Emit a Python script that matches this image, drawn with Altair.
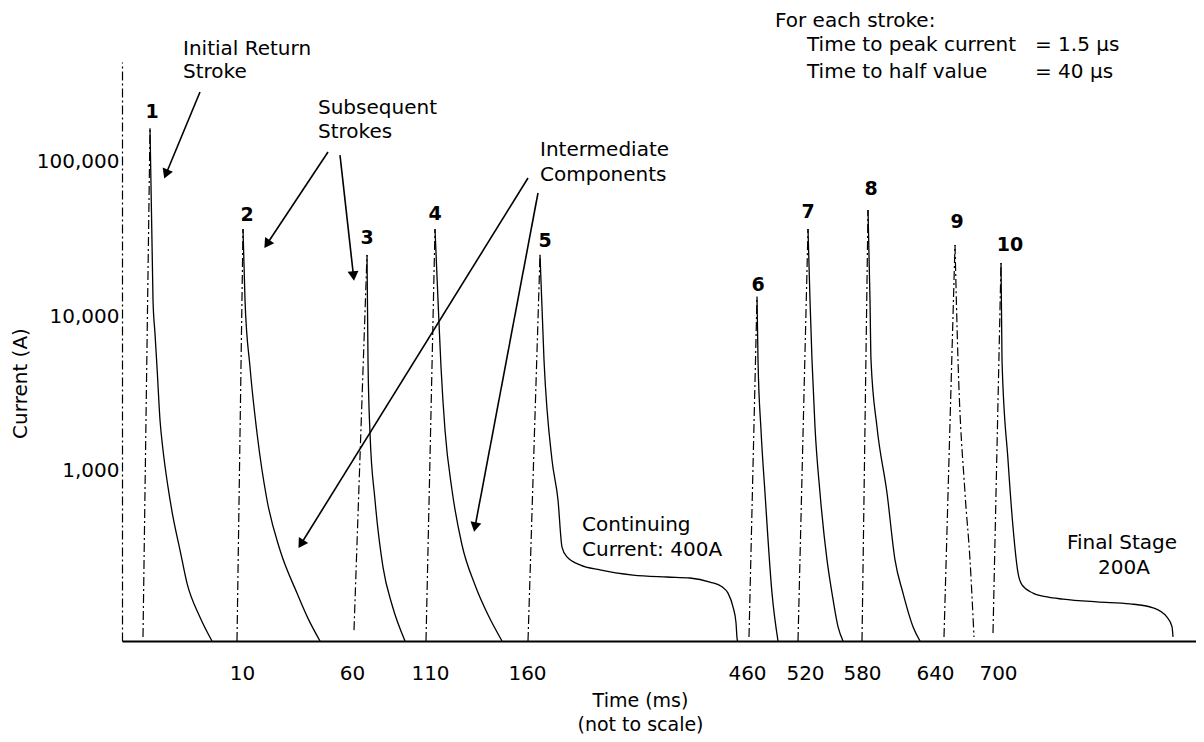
import altair as alt
import pandas as pd

FONT = "DejaVu Sans"

# x positions are drawing units along the (not to scale) time axis
TICK_POS = [120, 230, 308, 405, 625, 683, 740, 813, 876]
TICK_LABELS = ["10", "60", "110", "160", "460", "520", "580", "640", "700"]
Y_TICKS = [1000, 10000, 100000]
X_DOMAIN = [0, 1074]
Y_DOMAIN = [80, 435500]

# rise (front) of each stroke: start at the base, end at the peak
STROKE_ID = ["1", "2", "3", "4", "5", "6", "7", "8", "9", "10"]
RISE_T0 = [21, 115, 232, 304, 406, 627, 676, 740, 822, 871]
RISE_I0 = [85, 80, 94, 80, 80, 85, 80, 80, 85, 90]
PEAK_T = [28, 121, 245, 313, 418, 635, 686, 746, 833, 879]
PEAK_I = [163000, 36400, 24800, 36400, 24800, 13300, 36400, 48300, 28700, 22000]

# decay (tail) of each stroke, after the peak
S1_T = [31, 33, 35, 38, 41, 46, 51, 58, 65, 78, 90]
S1_I = [12700, 7700, 4690, 2134, 1366, 789, 505, 309, 189, 114, 80]
S2_T = [123, 128, 135, 145, 158, 175, 186, 198]
S2_I = [12700, 4690, 1759, 650, 309, 163, 112, 80]
S3_T = [246, 248, 253, 261, 270, 283]
S3_I = [5200, 1759, 650, 240, 137, 80]
S4_T = [316, 319, 323, 330, 340, 353, 366, 380]
S4_I = [12700, 4690, 1840, 754, 333, 184, 118, 80]
S5_T = [422, 430, 436, 440, 445, 458, 478, 511, 545, 568, 588, 600, 606, 611, 614, 615, 615.5]
S5_I = [5200, 1178, 650, 323, 279, 248, 230, 213, 207, 204, 192, 179, 163, 133, 105, 84, 80]
S6_T = [636, 639, 643, 650, 656]
S6_I = [5200, 1840, 721, 163, 80]
S7_T = [688, 690, 693, 698, 705, 710, 716, 721]
S7_I = [12700, 5200, 1923, 721, 267, 163, 99, 80]
S8_T = [748, 749, 755, 765, 773, 781, 791, 798]
S8_I = [12700, 5200, 1923, 721, 267, 163, 99, 80]
S9_T = [836, 843, 848, 852]
S9_I = [5200, 721, 267, 85]
S10_T = [880, 886, 891, 896, 900, 911, 925, 941, 975, 1008, 1031, 1045, 1050, 1051]
S10_I = [5200, 1178, 435, 220, 184, 163, 154, 149, 143, 139, 131, 114, 99, 85]

DECAY_T = [S1_T, S2_T, S3_T, S4_T, S5_T, S6_T, S7_T, S8_T, S9_T, S10_T]
DECAY_I = [S1_I, S2_I, S3_I, S4_I, S5_I, S6_I, S7_I, S8_I, S9_I, S10_I]
DASHED_DECAY = ["9"]

# stroke numbers
NUM_T = [30, 125, 245, 313, 423, 636, 686, 749, 835, 888]
NUM_I = [207200, 44850, 31850, 45500, 30480, 15850, 46900, 65960, 40400, 28700]

# left-aligned notes
NOTE_TEXT = ["Initial Return", "Stroke", "Subsequent", "Strokes", "Intermediate",
             "Components", "Continuing", "Current: 400A", "For each stroke:",
             "Time to peak current", "Time to half value", "= 1.5 \u03bcs", "= 40 \u03bcs"]
NOTE_T = [61, 61, 196, 196, 418, 418, 460, 460, 653, 685, 685, 913, 913]
NOTE_I = [528000, 375300, 219800, 153900, 117800, 81300, 448, 309, 800000,
          560000, 375300, 560000, 375300]

# centred notes
CNOTE_TEXT = ["Final Stage", "200A"]
CNOTE_T = [1000, 1002]
CNOTE_I = [343, 237]

# arrows: start and head centre
ARROW_T0 = [78, 206, 218, 406, 416]
ARROW_I0 = [278600, 114300, 109300, 77700, 62200]
ARROW_T1 = [44, 145, 231.5, 179, 353]
ARROW_I1 = [82500, 29150, 18130, 338, 435]
ARROW_ANGLE = [202, 214, 174, 212, 191]

# ---------------- tables ----------------
rise_rows = []
for k, s in enumerate(STROKE_ID):
    rise_rows.append({"s": s, "o": 0, "t": RISE_T0[k], "i": RISE_I0[k]})
    rise_rows.append({"s": s, "o": 1, "t": PEAK_T[k], "i": PEAK_I[k]})
rise_df = pd.DataFrame(rise_rows)

decay_rows = []
for k, s in enumerate(STROKE_ID):
    ts = [PEAK_T[k]] + DECAY_T[k]
    vs = [PEAK_I[k]] + DECAY_I[k]
    for j, (t, v) in enumerate(zip(ts, vs)):
        decay_rows.append({"s": s, "o": j, "t": t, "i": v, "dash": s in DASHED_DECAY})
decay_df = pd.DataFrame(decay_rows)

num_df = pd.DataFrame({"label": STROKE_ID, "t": NUM_T, "i": NUM_I})
note_df = pd.DataFrame({"label": NOTE_TEXT, "t": NOTE_T, "i": NOTE_I})
cnote_df = pd.DataFrame({"label": CNOTE_TEXT, "t": CNOTE_T, "i": CNOTE_I})
arrow_df = pd.DataFrame({"t": ARROW_T0, "i": ARROW_I0, "t2": ARROW_T1, "i2": ARROW_I1,
                         "ang": ARROW_ANGLE})

label_expr = f"{TICK_LABELS}[indexof({TICK_POS}, datum.value)]"

x_axis = alt.Axis(values=TICK_POS, labelExpr=label_expr, grid=False, ticks=False,
                  domainColor="black", domainWidth=2, labelFont=FONT, labelFontSize=20,
                  labelColor="black", labelPadding=22, labelOverlap=False, labelFlush=False,
                  title=["Time (ms)", "(not to scale)"], titleFont=FONT, titleFontSize=19,
                  titleFontWeight="normal", titleColor="black", titleX=518, titleY=50,
                  titleAlign="center", titleBaseline="top", titleLineHeight=24)
y_axis = alt.Axis(values=Y_TICKS, format=",d", grid=False, ticks=False,
                  domainColor="black", domainWidth=1.2, domainDash=[9, 3, 2, 3],
                  labelFont=FONT, labelFontSize=20, labelColor="black", labelPadding=3,
                  title="Current (A)", titleFont=FONT, titleFontSize=20,
                  titleFontWeight="normal", titleColor="black", titleX=-102, titleY=321,
                  titleAngle=270, titleAlign="center", titleBaseline="middle")

xs = alt.Scale(domain=X_DOMAIN, nice=False, zero=False)
ys = alt.Scale(type="log", domain=Y_DOMAIN, nice=False)


def X():
    return alt.X("t:Q", scale=xs, axis=x_axis)


def Y():
    return alt.Y("i:Q", scale=ys, axis=y_axis)


rise = alt.Chart(rise_df).mark_line(color="black", strokeWidth=1.2, strokeDash=[9, 3, 2, 3]).encode(
    x=X(), y=Y(), detail="s:N", order="o:Q")

decay_solid = alt.Chart(decay_df[~decay_df["dash"]]).mark_line(
    color="black", strokeWidth=1.3, interpolate="monotone").encode(
    x=X(), y=Y(), detail="s:N", order="o:Q")

decay_dash = alt.Chart(decay_df[decay_df["dash"]]).mark_line(
    color="black", strokeWidth=1.2, strokeDash=[9, 3, 2, 3], interpolate="monotone").encode(
    x=X(), y=Y(), detail="s:N", order="o:Q")

arrow_lines = alt.Chart(arrow_df).mark_rule(color="black", strokeWidth=1.6).encode(
    x=X(), y=Y(), x2="t2:Q", y2="i2:Q")

arrow_heads = alt.Chart(arrow_df).mark_point(shape="triangle-up", filled=True, color="black",
                                             opacity=1, size=120).encode(
    x=alt.X("t2:Q", scale=xs, axis=x_axis), y=alt.Y("i2:Q", scale=ys, axis=y_axis),
    angle=alt.Angle("ang:Q", scale=None))

nums = alt.Chart(num_df).mark_text(font=FONT, fontSize=19, fontWeight="bold", color="black",
                                   align="center", baseline="middle").encode(
    x=X(), y=Y(), text="label:N")

notes = alt.Chart(note_df).mark_text(font=FONT, fontSize=20, color="black",
                                     align="left", baseline="middle").encode(
    x=X(), y=Y(), text="label:N")

cnotes = alt.Chart(cnote_df).mark_text(font=FONT, fontSize=20, color="black",
                                       align="center", baseline="middle").encode(
    x=X(), y=Y(), text="label:N")

chart = alt.layer(rise, decay_solid, decay_dash, arrow_lines, arrow_heads, nums, notes, cnotes).properties(
    width=1074, height=579,
    autosize=alt.AutoSizeParams(type="none"),
    padding={"left": 114, "top": 54, "right": 0, "bottom": 100},
    background="white",
).configure_view(stroke=None)

chart.save("out.html", embed_options={"renderer": "svg", "actions": False})
